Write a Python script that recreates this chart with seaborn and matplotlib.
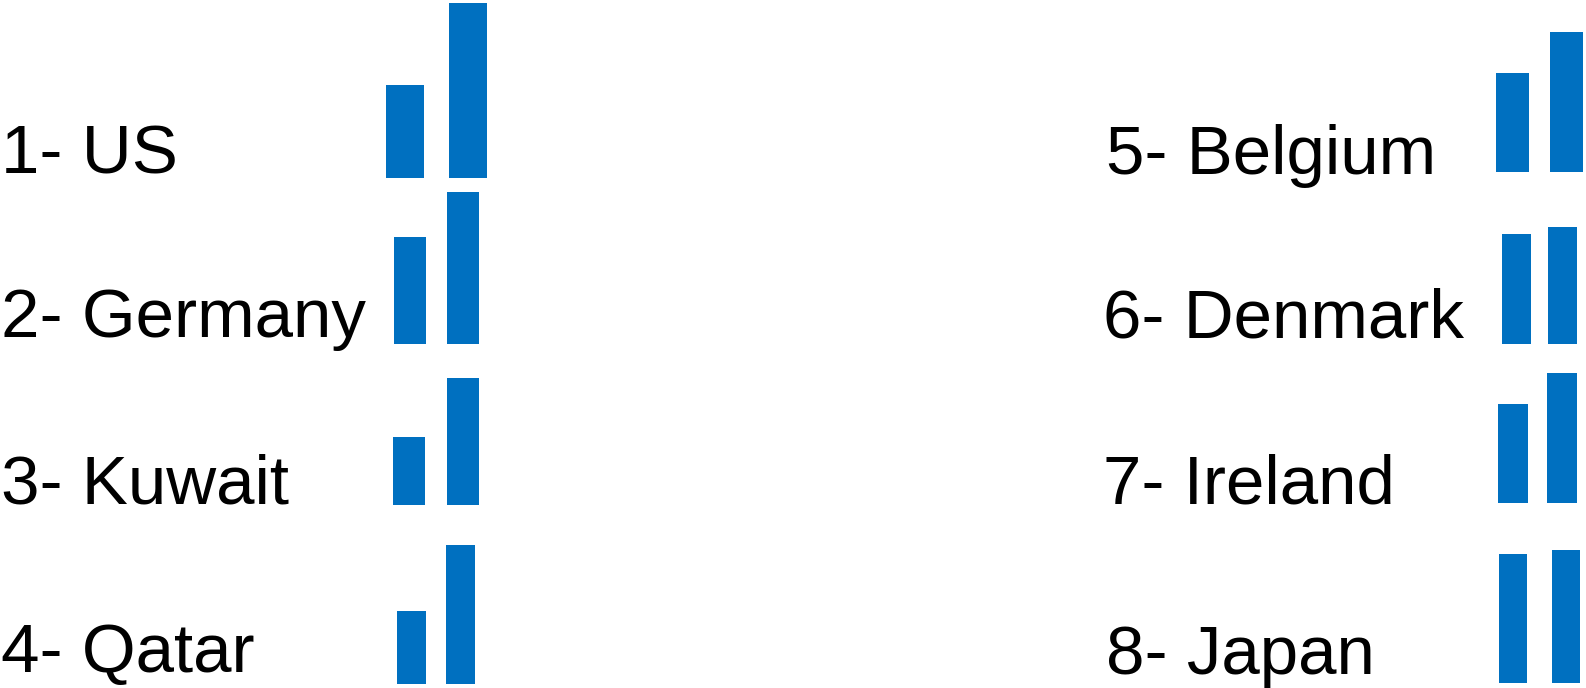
import matplotlib
matplotlib.use("Agg")
import matplotlib.pyplot as plt
import seaborn as sns
import pandas as pd

sns.set_theme(style="white")
plt.rcParams['font.family'] = ['Liberation Sans', 'DejaVu Sans']

# Data
labels = ["1- US", "2- Germany", "3- Kuwait", "4- Qatar",
          "5- Belgium", "6- Denmark", "7- Ireland", "8- Japan"]
first_values = [93, 107, 68, 73, 99, 110, 99, 129]
second_values = [175, 152, 127, 139, 140, 117, 130, 133]

BAR_COLOR = "#0070C0"
W, H = 1586, 688

# Layout (pixels): bar-pair left edge, right edge, baseline, bar width fraction
panel_left = [386, 394, 393, 397, 1496, 1502, 1498, 1499]
panel_right = [487, 479, 479, 475, 1583, 1577, 1577, 1580]
panel_base = [178, 344, 505, 684, 172, 344, 503, 683]
bar_frac = [0.60, 0.60, 0.59, 0.59, 0.61, 0.63, 0.61, 0.53]
label_x = [1, 1, 1, 1, 1106, 1103, 1103, 1106]
label_base = [174, 337, 503, 672, 174, 337, 503, 674]

AX_H = 185  # axis height in px, ylim in same units

fig = plt.figure(figsize=(W / 100, H / 100), dpi=100)
fig.patch.set_facecolor("white")

for i in range(len(labels)):
    left, right, base, frac = panel_left[i], panel_right[i], panel_base[i], bar_frac[i]
    ax = fig.add_axes([left / W, 1 - base / H, (right - left) / W, AX_H / H])
    df = pd.DataFrame({"k": ["a", "b"], "v": [first_values[i], second_values[i]]})
    sns.barplot(data=df, x="k", y="v", color=BAR_COLOR, saturation=1,
                width=frac, linewidth=0, ax=ax)
    ax.set_xlim(-frac / 2, 1 + frac / 2)
    ax.set_ylim(0, AX_H)
    ax.axis("off")
    fig.text(label_x[i] / W, 1 - label_base[i] / H, labels[i],
             fontsize=49.8, color="black", ha="left", va="baseline")

fig.savefig("out.png", dpi=100, facecolor="white")
